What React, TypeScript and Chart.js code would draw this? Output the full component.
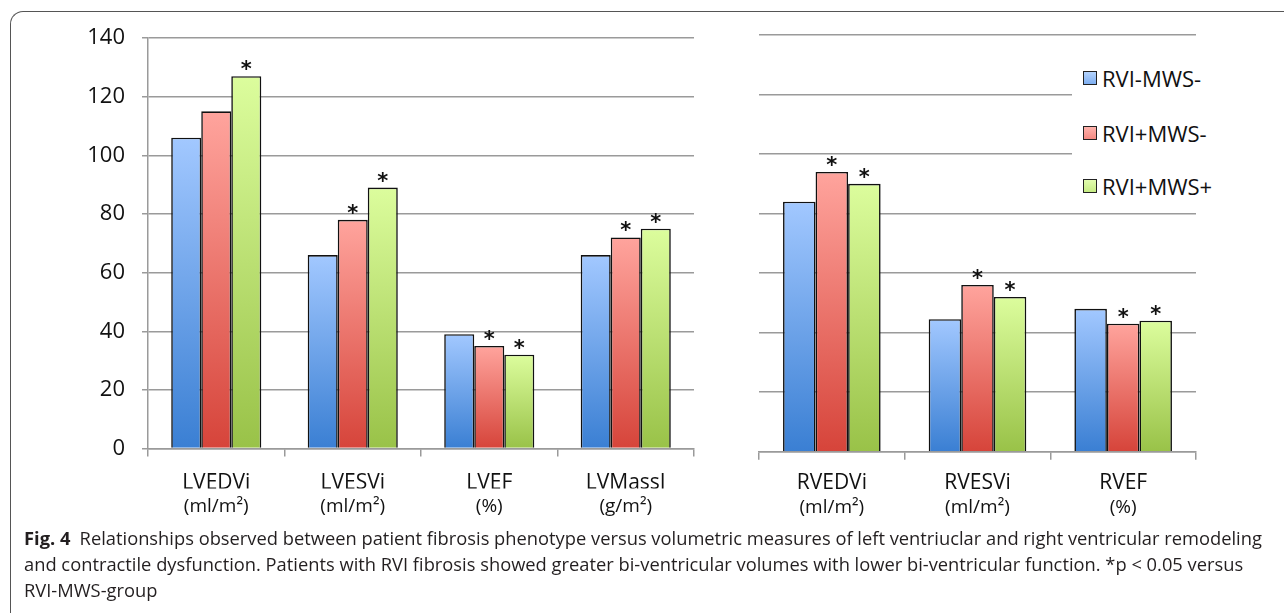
import React, { useEffect, useLayoutEffect, useRef, useState } from 'react';
import { Chart, registerables } from 'chart.js';

Chart.register(...registerables);
Chart.defaults.font.family = "'Open Sans', sans-serif";

// ---------- data ----------
const seriesNames = ['RVI-MWS-', 'RVI+MWS-', 'RVI+MWS+'];

const leftCategories = ['LVEDVi', 'LVESVi', 'LVEF', 'LVMassI'];
const leftUnits = ['(ml/m²)', '(ml/m²)', '(%)', '(g/m²)'];
const leftRviNegMwsNeg = [106, 66, 39, 66];
const leftRviPosMwsNeg = [115, 78, 35, 72];
const leftRviPosMwsPos = [127, 89, 32, 75];
const leftStars = [
  [false, false, false, false],
  [false, true, true, true],
  [true, true, true, true],
];

const rightCategories = ['RVEDVi', 'RVESVi', 'RVEF'];
const rightUnits = ['(ml/m²)', '(ml/m²)', '(%)'];
const rightRviNegMwsNeg = [84, 44.5, 48];
const rightRviPosMwsNeg = [94, 56, 43];
const rightRviPosMwsPos = [90, 52, 44];
const rightStars = [
  [false, false, false],
  [true, true, true],
  [true, true, true],
];

const yMin = 0;
const yMax = 140;
const yStep = 20;

// ---------- styles ----------
const gradTop = ['#a2c8ff', '#ffa49d', '#dcfd9d'];
const gradBottom = ['#3a7fd3', '#d6443a', '#99c248'];
const legendTop = ['#b4d3fd', '#ffb3ad', '#e2fcb0'];
const legendBottom = ['#7eaef0', '#f58a82', '#c6ec84'];
const gridColor = '#9a9a9a';
const textColor = '#111111';

function barGradient(i: number) {
  return (ctx: any) => {
    const chart = ctx.chart;
    if (ctx.type !== 'data' || !chart.chartArea || !chart.scales.y) return gradTop[i];
    const y = chart.scales.y;
    const t = y.getPixelForValue(ctx.raw);
    const b = y.getPixelForValue(0);
    const g = chart.ctx.createLinearGradient(0, t, 0, b);
    g.addColorStop(0, gradTop[i]);
    g.addColorStop(1, gradBottom[i]);
    return g;
  };
}

function starPlugin(flags: boolean[][]) {
  return {
    id: 'stars',
    afterDatasetsDraw(chart: any) {
      const c = chart.ctx;
      c.save();
      c.fillStyle = '#111';
      c.font = "bold 21px 'DejaVu Sans', sans-serif";
      c.textAlign = 'center';
      c.textBaseline = 'alphabetic';
      flags.forEach((row, di) => {
        const meta = chart.getDatasetMeta(di);
        row.forEach((on, j) => {
          if (!on) return;
          const el = meta.data[j];
          if (!el) return;
          c.fillText('*', el.x, el.y + 0);
        });
      });
      c.restore();
    },
  };
}

function makeConfig(
  categories: string[],
  units: string[],
  series: number[][],
  stars: boolean[][],
  o: { showY: boolean; padding: any; xHeight: number; x2Height: number; yWidth: number; catPct: number; xPad: number }
): any {
  return {
    type: 'bar',
    data: {
      labels: categories,
      datasets: series.map((d, i) => ({
        label: seriesNames[i],
        data: d,
        backgroundColor: barGradient(i),
        borderColor: '#111111',
        borderWidth: 1.6,
        barPercentage: 1,
        categoryPercentage: o.catPct,
      })),
    },
    options: {
      responsive: true,
      maintainAspectRatio: false,
      animation: false,
      events: [],
      layout: { padding: o.padding },
      plugins: { legend: { display: false }, tooltip: { enabled: false } },
      scales: {
        x: {
          type: 'category',
          offset: true,
          weight: 0,
          grid: {
            display: true,
            drawOnChartArea: false,
            drawTicks: true,
            tickLength: 8,
            color: gridColor,
            lineWidth: 1.5,
            offset: true,
          },
          border: { display: true, color: gridColor, width: 1.5 },
          ticks: { color: textColor, font: { size: 21 }, padding: o.xPad, maxRotation: 0, autoSkip: false },
          afterFit: (s: any) => {
            s.height = o.xHeight;
          },
        },
        x2: {
          type: 'category',
          labels: units,
          position: 'bottom',
          offset: true,
          weight: 1,
          grid: { display: false, drawTicks: false, tickLength: 0 },
          border: { display: false },
          ticks: { color: textColor, font: { size: 19 }, padding: 7, maxRotation: 0, autoSkip: false },
          afterFit: (s: any) => {
            s.height = o.x2Height;
          },
        },
        y: {
          min: yMin,
          max: yMax,
          ticks: { display: o.showY, stepSize: yStep, color: textColor, font: { size: 22 }, padding: 17 },
          grid: { color: gridColor, lineWidth: 1.5, drawTicks: o.showY, tickLength: o.showY ? 6 : 0 },
          border: { display: o.showY, color: gridColor, width: 1.5 },
          afterFit: (s: any) => {
            s.width = o.yWidth;
          },
        },
      },
    },
    plugins: [starPlugin(stars)],
  };
}

function BarChart({ config, style }: { config: any; style: React.CSSProperties }) {
  const ref = useRef<HTMLCanvasElement>(null);
  useEffect(() => {
    const chart = new Chart(ref.current as HTMLCanvasElement, config);
    return () => chart.destroy();
  }, []);
  return (
    <div style={style}>
      <canvas ref={ref} />
    </div>
  );
}

function Legend() {
  const centers = [78, 133, 186];
  return (
    <div style={{ position: 'absolute', left: 1072, top: 50, width: 180, height: 155, background: '#fff' }}>
      {seriesNames.map((n, i) => (
        <div key={n} style={{ position: 'absolute', left: 0, top: centers[i] - 50 - 16, height: 32, display: 'flex', alignItems: 'center' }}>
          <div
            style={{
              marginLeft: 11,
              width: 12,
              height: 12,
              border: '1.5px solid #222',
              background: `linear-gradient(${legendTop[i]}, ${legendBottom[i]})`,
            }}
          />
          <span style={{ marginLeft: 5, fontFamily: "'Open Sans', sans-serif", fontSize: 22, color: textColor, whiteSpace: 'nowrap' }}>{n}</span>
        </div>
      ))}
    </div>
  );
}

function Caption() {
  const lineRef = useRef<HTMLSpanElement>(null);
  const [scale, setScale] = useState(1);
  useLayoutEffect(() => {
    const measure = () => {
      if (lineRef.current) setScale(1238 / lineRef.current.offsetWidth);
    };
    measure();
    (document as any).fonts?.ready?.then(measure);
  }, []);
  return (
    <div
      style={{
        position: 'absolute',
        left: 24,
        top: 525,
        fontFamily: "'Open Sans', sans-serif",
        fontSize: 18,
        lineHeight: '26px',
        color: '#231f20',
        whiteSpace: 'nowrap',
        transform: `scaleX(${scale})`,
        transformOrigin: '0 0',
      }}
    >
      <div>
        <span ref={lineRef} style={{ display: 'inline-block' }}>
          <b>Fig. 4</b>
          {'\u2002'}Relationships observed between patient fibrosis phenotype versus volumetric measures of left ventriuclar and right ventricular remodeling
        </span>
      </div>
      <div>
        and contractile dysfunction. Patients with RVI fibrosis showed greater bi-ventricular volumes with lower bi-ventricular function. *p &lt; 0.05 versus
      </div>
      <div>RVI-MWS-group</div>
    </div>
  );
}

export default function App() {
  const leftConfig = makeConfig(
    leftCategories,
    leftUnits,
    [leftRviNegMwsNeg, leftRviPosMwsNeg, leftRviPosMwsPos],
    leftStars,
    { showY: true, padding: { left: 0, top: 38, right: 26, bottom: 0 }, xHeight: 40, x2Height: 41.4, yWidth: 148, catPct: 0.66, xPad: 14 }
  );
  const rightConfig = makeConfig(
    rightCategories,
    rightUnits,
    [rightRviNegMwsNeg, rightRviPosMwsNeg, rightRviPosMwsPos],
    rightStars,
    { showY: false, padding: { left: 19, top: 35, right: 88, bottom: 0 }, xHeight: 37.3, x2Height: 41, yWidth: 0, catPct: 0.67, xPad: 11 }
  );
  return (
    <div style={{ position: 'fixed', left: 0, top: 0, width: 1284, height: 613, background: '#fff', overflow: 'hidden' }}>
      <div
        style={{
          position: 'absolute',
          left: 10,
          top: 11,
          width: 1400,
          height: 800,
          borderLeft: '1.5px solid #555',
          borderTop: '1.5px solid #555',
          borderTopLeftRadius: 13,
        }}
      />
      <BarChart config={leftConfig} style={{ position: 'absolute', left: 0, top: 0, width: 720, height: 530 }} />
      <BarChart config={rightConfig} style={{ position: 'absolute', left: 740, top: 0, width: 544, height: 530 }} />
      <Legend />
      <Caption />
    </div>
  );
}
